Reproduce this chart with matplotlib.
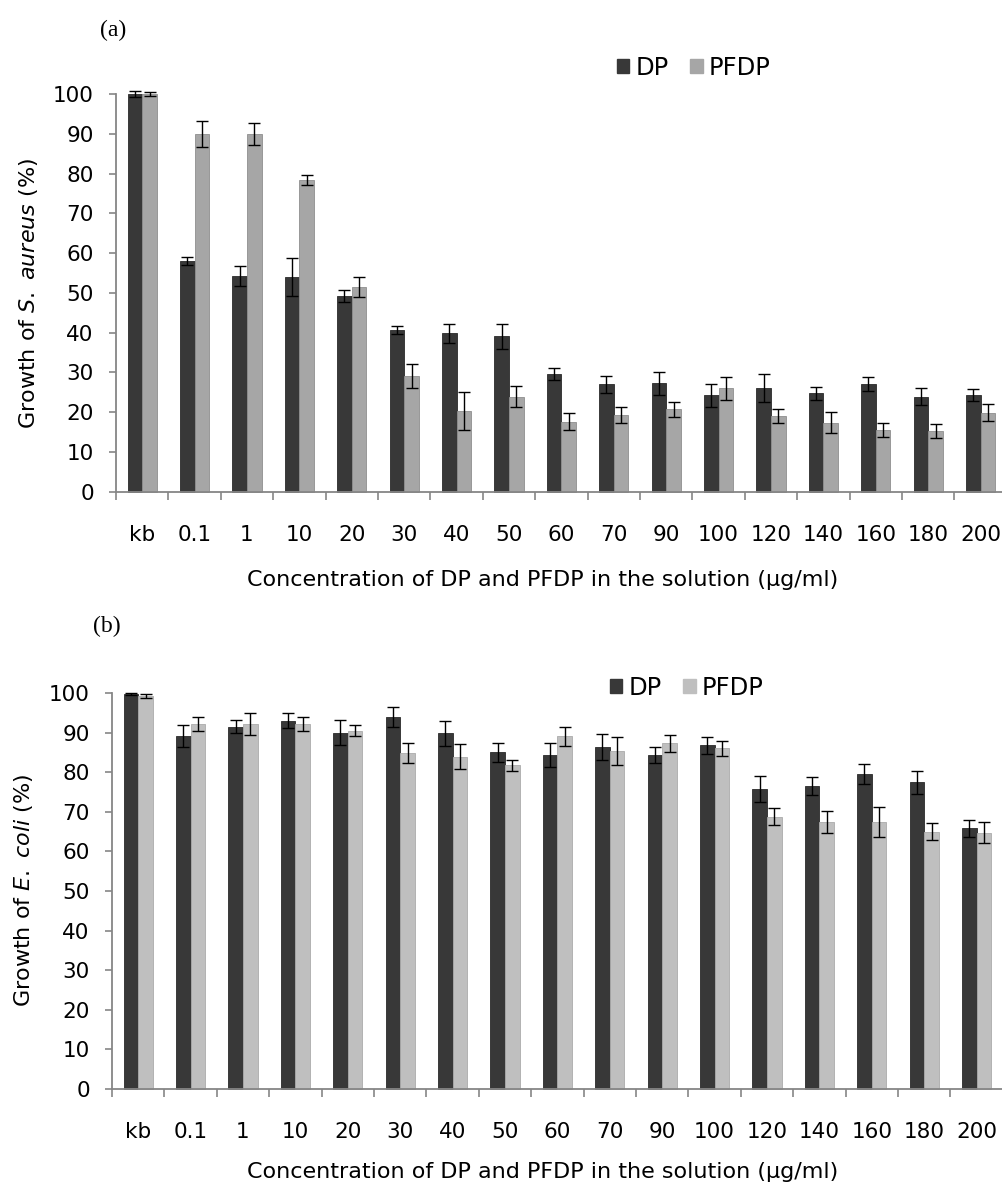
import numpy as np
import matplotlib
matplotlib.use("Agg")
import matplotlib.pyplot as plt
from matplotlib.patches import Patch

plt.rcParams['font.family'] = ['DejaVu Sans']
plt.rcParams['mathtext.fontset'] = 'dejavusans'

categories = ["kb", "0.1", "1", "10", "20", "30", "40", "50", "60", "70",
              "90", "100", "120", "140", "160", "180", "200"]

# Panel (a): S. aureus
dp_a = [100, 58, 54.2, 53.9, 49.2, 40.7, 39.8, 39.1, 29.6, 27.0, 27.3, 24.2, 26.0, 24.7, 27.0, 23.9, 24.2]
dp_a_err = [0.8, 1.0, 2.5, 4.8, 1.5, 1.0, 2.3, 3.1, 1.5, 2.2, 2.9, 3.0, 3.5, 1.7, 1.8, 2.2, 1.5]
pfdp_a = [100, 90, 90, 78.4, 51.5, 29.1, 20.3, 23.9, 17.6, 19.3, 20.7, 26.0, 19.0, 17.4, 15.5, 15.3, 19.9]
pfdp_a_err = [0.4, 3.3, 2.8, 1.3, 2.5, 2.9, 4.7, 2.7, 2.1, 1.9, 1.9, 2.9, 1.8, 2.6, 1.8, 1.7, 2.1]

# Panel (b): E. coli
dp_b = [99.7, 89.1, 91.5, 93.0, 90.0, 94.0, 89.8, 85.0, 84.3, 86.4, 84.3, 86.8, 75.8, 76.5, 79.5, 77.4, 65.8]
dp_b_err = [0.3, 2.8, 1.7, 1.9, 3.1, 2.5, 3.1, 2.4, 3.0, 3.3, 2.0, 2.2, 3.2, 2.2, 2.5, 2.8, 2.1]
pfdp_b = [99.2, 92.2, 92.2, 92.2, 90.5, 84.9, 83.9, 81.8, 89.1, 85.4, 87.3, 86.0, 68.8, 67.5, 67.5, 65.0, 64.7]
pfdp_b_err = [0.5, 1.7, 2.7, 1.8, 1.4, 2.6, 3.1, 1.4, 2.4, 3.5, 2.1, 2.0, 2.2, 2.8, 3.8, 2.1, 2.6]

W, H = 1003, 1192
fig = plt.figure(figsize=(W / 100, H / 100), dpi=100)

dark = '#383838'
light_a = '#a6a6a6'
light_b = '#bfbfbf'
spine_col = '#868686'
bw = 0.28
FS = 15.5

xlab_y = {'(a)': 580, '(b)': 1172}


def panel(rect, dp, dperr, pf, pferr, light, light_edge, ylabel, tag, tagpos, ylabpos, legpos):
    ax = fig.add_axes(rect)
    x = np.arange(len(categories))
    ekw = dict(ecolor='black', elinewidth=1.0, capthick=1.0, clip_on=False)
    ax.bar(x - bw / 2, dp, bw, yerr=dperr, color=dark, edgecolor='#2a2a2a',
           linewidth=0.6, capsize=4.5, error_kw=ekw, clip_on=False, zorder=2)
    ax.bar(x + bw / 2, pf, bw, yerr=pferr, color=light, edgecolor=light_edge,
           linewidth=0.6, capsize=4.5, error_kw=ekw, clip_on=False, zorder=2)
    ax.set_xlim(-0.5, len(categories) - 0.5)
    ax.set_ylim(0, 100)
    ax.set_yticks(np.arange(0, 101, 10))
    ax.set_xticks(x)
    ax.set_xticklabels(categories)
    ax.set_xticks(np.arange(-0.5, len(categories)), minor=True)
    ax.tick_params(axis='x', which='major', length=0, pad=24, labelsize=FS)
    ax.tick_params(axis='x', which='minor', length=6, width=1.2, color=spine_col, direction='out')
    ax.tick_params(axis='y', length=5, width=1.2, color=spine_col, pad=11, labelsize=FS)
    for s in ['top', 'right']:
        ax.spines[s].set_visible(False)
    for s in ['left', 'bottom']:
        ax.spines[s].set_color(spine_col)
        ax.spines[s].set_linewidth(1.3)
    ax.set_facecolor('none')
    fig.text(ylabpos[0] / W, 1 - ylabpos[1] / H, ylabel, rotation=90, ha='center', va='center', fontsize=16)
    fig.text(543 / W, 1 - xlab_y[tag] / H,
             "Concentration of DP and PFDP in the solution (µg/ml)", ha='center', va='center', fontsize=16)
    fig.text(tagpos[0] / W, 1 - tagpos[1] / H, tag, ha='center', va='center', fontsize=17,
             family='Liberation Serif')
    handles = [Patch(facecolor=dark, edgecolor=dark, label='DP'),
               Patch(facecolor=light, edgecolor=light, label='PFDP')]
    fig.legend(handles=handles, loc='center left', bbox_to_anchor=(legpos[0] / W, 1 - legpos[1] / H),
               ncol=2, frameon=False, fontsize=17.5, handlelength=0.5, handleheight=0.5,
               handletextpad=0.25, columnspacing=0.9, borderpad=0, borderaxespad=0)
    return ax


span = 17 * 52.4
# panel (a): spine at x=116, y0=491.7, y100=94
panel([116 / W, 1 - 491.7 / H, span / W, (491.7 - 94) / H], dp_a, dp_a_err, pfdp_a, pfdp_a_err,
      light_a, '#8f8f8f', r"Growth of $\mathit{S.}$ $\mathit{aureus}$ (%)", '(a)', (113, 30), (29, 293), (617, 68))
# panel (b): spine at x=112, y0=1089, y100=693
panel([112 / W, 1 - 1089 / H, span / W, (1089 - 693) / H], dp_b, dp_b_err, pfdp_b, pfdp_b_err,
      light_b, '#ababab', r"Growth of $\mathit{E.}$ $\mathit{coli}$ (%)", '(b)', (107, 626), (24, 891), (610, 688))

fig.savefig("out.png", dpi=100)
